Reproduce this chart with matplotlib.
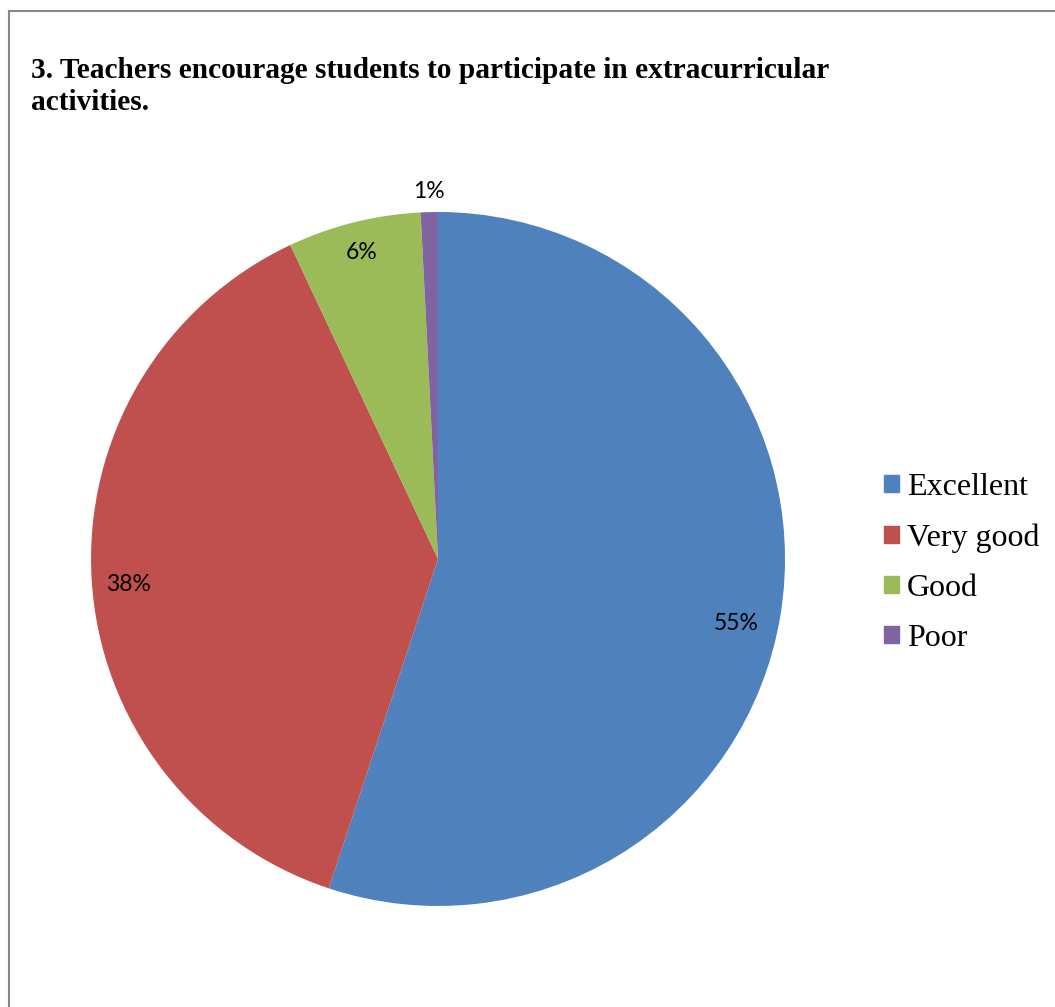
import matplotlib.pyplot as plt
import numpy as np
from matplotlib.lines import Line2D

categories = ['Excellent', 'Very good', 'Good', 'Poor']
shares = [55.1, 37.9, 6.2, 0.8]
pct_labels = ['55%', '38%', '6%', '1%']
colors = ['#4F81BD', '#C0504D', '#9BBB59', '#8064A2']

fig = plt.figure(figsize=(10.55, 10.07), dpi=100)

# frame line on left and top like the original export
fig.add_artist(Line2D([0.0085, 0.0085], [0, 0.989], color='#888888', lw=1.5))
fig.add_artist(Line2D([0.0085, 1.0], [0.989, 0.989], color='#888888', lw=1.5))

fig.text(0.029, 0.891, '3. Teachers encourage students to participate in extracurricular\nactivities.',
         family='Liberation Serif', weight='bold', fontsize=21.2, va='baseline', ha='left',
         linespacing=1.25)

ax = fig.add_axes([0.0863, 0.1003, 0.6578, 0.6892])
wedges, texts = ax.pie(shares, colors=colors, startangle=90, counterclock=False,
                       wedgeprops=dict(linewidth=0))
ax.set_xlim(-1, 1)
ax.set_ylim(-1, 1)
ax.axis('off')

# label distance from centre and small angle nudge (deg), like Excel's best fit
dist = [0.88, 0.895, 0.91, 1.06]
nudge = [-3.0, 1.3, 0, 0]
for w, lab, d, n in zip(wedges, pct_labels, dist, nudge):
    ang = np.deg2rad((w.theta1 + w.theta2) / 2 + n)
    ax.text(d * np.cos(ang), d * np.sin(ang), lab, family='Lato', fontsize=16.5,
            ha='center', va='center')

handles = [plt.Rectangle((0, 0), 1, 1, color=c) for c in colors]
fig.legend(handles, categories, loc='center left', bbox_to_anchor=(0.811, 0.441),
           frameon=False, prop=dict(family='Liberation Serif', size=23),
           handlelength=0.45, handleheight=0.45, handletextpad=0.25, labelspacing=0.66)

fig.savefig('out.png')
